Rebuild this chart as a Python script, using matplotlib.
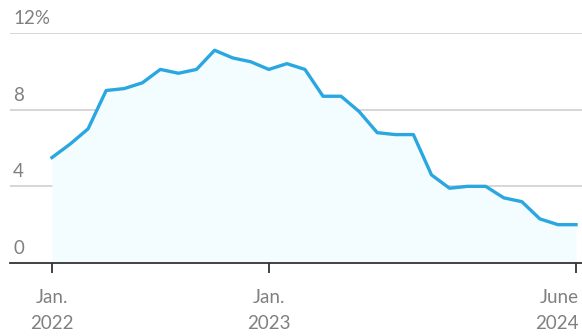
import matplotlib
matplotlib.use("Agg")
import matplotlib.pyplot as plt
import matplotlib.transforms as mtransforms

# Monthly inflation rate, Jan. 2022 - June 2024 (%)
months = ["2022-01", "2022-02", "2022-03", "2022-04", "2022-05", "2022-06",
          "2022-07", "2022-08", "2022-09", "2022-10", "2022-11", "2022-12",
          "2023-01", "2023-02", "2023-03", "2023-04", "2023-05", "2023-06",
          "2023-07", "2023-08", "2023-09", "2023-10", "2023-11", "2023-12",
          "2024-01", "2024-02", "2024-03", "2024-04", "2024-05", "2024-06"]
rate = [5.5, 6.2, 7.0, 9.0, 9.1, 9.4, 10.1, 9.9, 10.1, 11.1, 10.7, 10.5,
        10.1, 10.4, 10.1, 8.7, 8.7, 7.9, 6.8, 6.7, 6.7, 4.6, 3.9, 4.0,
        4.0, 3.4, 3.2, 2.3, 2.0, 2.0]
y_ticks = [0, 4, 8, 12]
y_labels = ["0", "4", "8", "12%"]
x_tick_months = ["2022-01", "2023-01", "2024-06"]
x_tick_labels = ["Jan.\n2022", "Jan.\n2023", "June\n2024"]

LINE = "#2aa7e1"
FILL = "#f3fcfe"
GRID = "#d6d6d6"
TEXT = "#808080"
FONT = "Lato"

W, H = 582, 336
fig = plt.figure(figsize=(W / 100, H / 100), dpi=100)
ax = fig.add_axes([10 / W, (H - 263) / H, 572 / W, (263 - 33) / H])

x = list(range(len(months)))
ax.fill_between(x, rate, 0, color=FILL, lw=0, zorder=1)
ax.plot(x, rate, color=LINE, lw=2.4, solid_joinstyle="round", zorder=3)

ax.set_xlim(-2.32, 29.33)
ax.set_ylim(0, 12)

for s in ["top", "right", "left"]:
    ax.spines[s].set_visible(False)
ax.spines["bottom"].set_color("#333333")
ax.spines["bottom"].set_linewidth(1.3)
ax.spines["bottom"].set_zorder(4)

# horizontal gridlines with labels sitting above them
ax.set_yticks(y_ticks)
ax.tick_params(axis="y", length=0, labelleft=False)
for yv in y_ticks[1:]:
    ax.axhline(yv, color=GRID, lw=1.4, zorder=0)
trans = mtransforms.blended_transform_factory(ax.transAxes, ax.transData)
offset = mtransforms.ScaledTranslation(0, 6 / 100, fig.dpi_scale_trans)
for yv, lab in zip(y_ticks, y_labels):
    ax.text(3 / 572, yv, lab, transform=trans + offset, ha="left", va="bottom",
            fontsize=13.5, color=TEXT, family=FONT)

# x ticks
xt = [months.index(m) for m in x_tick_months]
ax.set_xticks(xt)
ax.set_xticklabels(x_tick_labels, fontsize=13.5, color=TEXT, family=FONT,
                   linespacing=1.6)
ax.tick_params(axis="x", length=7, width=1.3, color="#333333", pad=12)
labels = ax.get_xticklabels()
labels[-1].set_ha("right")
offset_r = mtransforms.ScaledTranslation(3 / 100, 0, fig.dpi_scale_trans)
labels[-1].set_transform(labels[-1].get_transform() + offset_r)

fig.savefig("out.png", dpi=100)
